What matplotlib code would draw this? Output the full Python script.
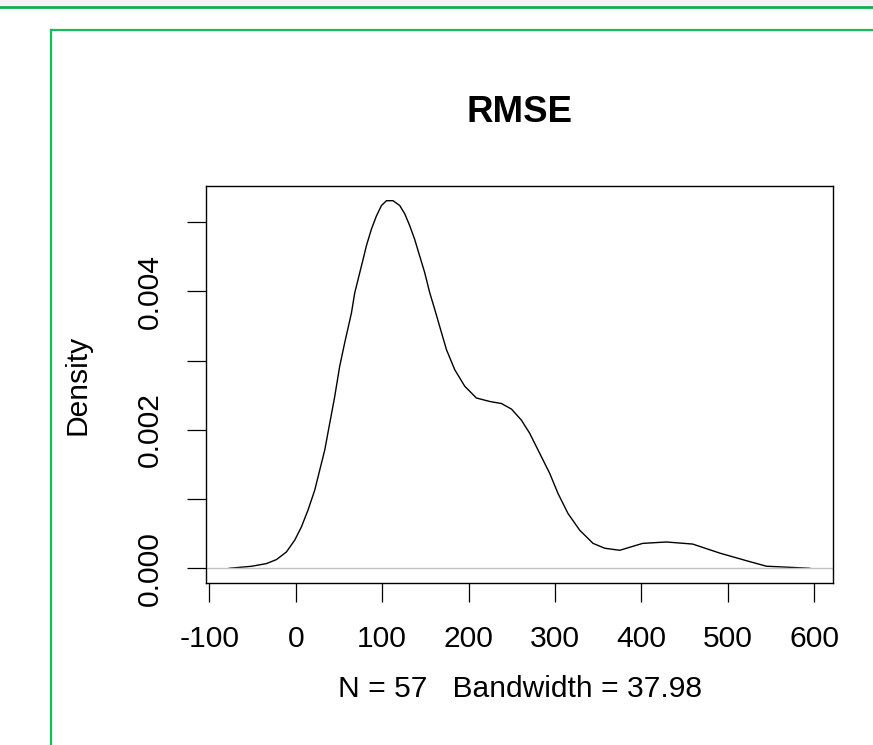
import matplotlib
matplotlib.use('Agg')
from matplotlib import pyplot as plt
from matplotlib.lines import Line2D

plt.rcParams['font.family'] = ['Liberation Sans', 'DejaVu Sans']
plt.rcParams['axes.unicode_minus'] = False  # R usa guion normal

# curva de densidad (x, densidad)
rmse_x = [-77, -51.3, -33.9, -22.3, -10.8, -1.2, 6.6, 14.2, 22.0, 27.8, 33.6,
          39.4, 45.1, 50.9, 56.7, 64.5, 68.3, 74.1, 77.9, 81.8, 87.6, 93.4,
          99.2, 105.0, 112.6, 120.4, 126.2, 131.9, 137.7, 143.5, 149.3, 155.1,
          160.9, 166.7, 174.4, 184.0, 195.6, 209.1, 224.5, 238.1, 249.7, 261.2,
          270.8, 282.4, 294.0, 303.6, 315.2, 328.7, 344.1, 357.6, 375.0, 401.6,
          429.1, 459.5, 490.7, 521.6, 544.8, 562.2, 595]
rmse_dens = [0.0, 0.000029, 0.000068, 0.000126, 0.000236, 0.000406, 0.000599,
             0.000841, 0.00113, 0.00142, 0.00171, 0.0021, 0.00248, 0.00292,
             0.00326, 0.00369, 0.00398, 0.00427, 0.00446, 0.00466, 0.0049,
             0.00509, 0.00524, 0.00531, 0.00531, 0.00524, 0.00512, 0.00495,
             0.00475, 0.00451, 0.00427, 0.00398, 0.00374, 0.00349, 0.00316,
             0.00287, 0.00263, 0.00246, 0.00241, 0.00238, 0.0023, 0.00214,
             0.00195, 0.00166, 0.00137, 0.00108, 0.00079, 0.00055, 0.00036,
             0.00029, 0.00026, 0.00036, 0.00038, 0.00035, 0.00022, 0.00011,
             0.00003, 0.00002, 0.0]

x_ticks = [-100, 0, 100, 200, 300, 400, 500, 600]
y_ticks = [0.0, 0.001, 0.002, 0.003, 0.004, 0.005]
y_labels = ['0.000', '', '0.002', '', '0.004', '']

W, H = 873, 745
fig = plt.figure(figsize=(W / 100, H / 100), dpi=100)

# marcos verdes de la captura
fig.add_artist(plt.Rectangle((0, 1 - 5 / H), 1, 5 / H, transform=fig.transFigure,
                             color='#f3f3f3', lw=0))
fig.add_artist(Line2D([0, 1], [1 - 6.5 / H] * 2, transform=fig.transFigure,
                      color='#0bb04e', lw=2.0))
fig.add_artist(Line2D([50.5 / W, 1], [1 - 30 / H] * 2, transform=fig.transFigure,
                      color='#18bb5c', lw=1.6))
fig.add_artist(Line2D([50.5 / W] * 2, [0, 1 - 30 / H], transform=fig.transFigure,
                      color='#18bb5c', lw=1.6))

ax = fig.add_axes([206 / W, 1 - 583 / H, (833 - 206) / W, (583 - 186) / H])
ax.plot(rmse_x, rmse_dens, color='black', lw=1.0)
ax.axhline(0, color='#c4c4c4', lw=1.0)
ax.margins(x=0.04, y=0.04)

ax.set_xticks(x_ticks)
ax.set_yticks(y_ticks)
ax.set_yticklabels(y_labels)
ax.tick_params(axis='both', direction='out', length=14, width=0.9, labelsize=21.6,
               pad=16)
for lab in ax.get_yticklabels():
    lab.set_rotation(90)
    lab.set_va('center')
for sp in ax.spines.values():
    sp.set_linewidth(1.0)

ax.text(0.5, 1 + (186 - 113) / 397, 'RMSE', transform=ax.transAxes, ha='center',
        va='center', fontsize=26.4, fontweight='bold')
ax.set_xlabel('N = 57   Bandwidth = 37.98', fontsize=21.6)
ax.xaxis.set_label_coords(0.5, (583 - 689) / 397)
ax.xaxis.label.set_va('center')
ax.set_ylabel('Density', fontsize=21.6)
ax.yaxis.set_label_coords((77 - 206) / 627, 0.5)
ax.yaxis.label.set_va('center')

fig.savefig('out.png', dpi=100)
